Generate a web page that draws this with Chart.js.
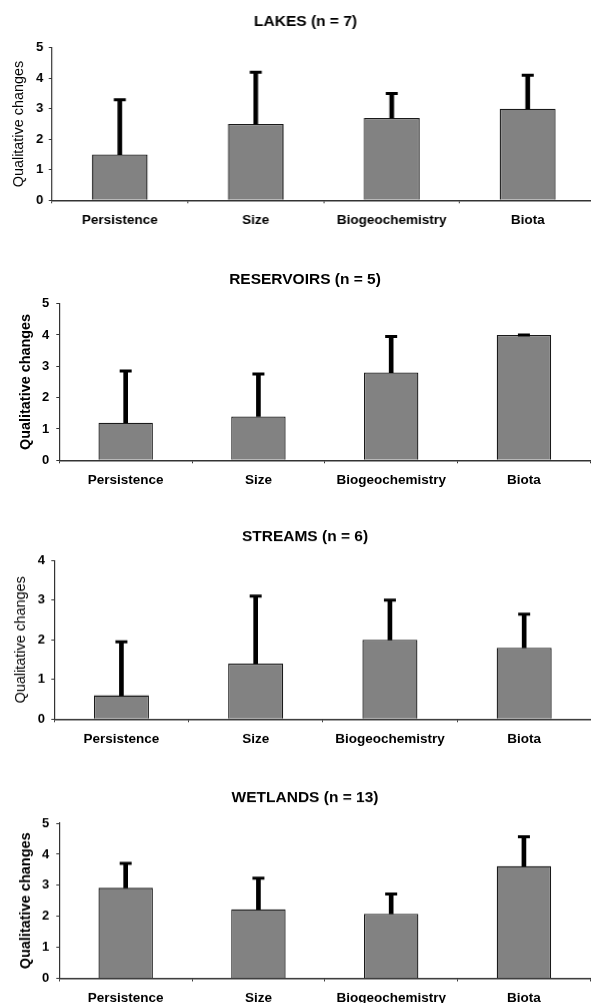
<!DOCTYPE html>
<html>
<head>
<meta charset="utf-8">
<script src="https://cdn.jsdelivr.net/npm/chart.js@4/dist/chart.umd.min.js"></script>
<style>
  html, body { margin: 0; padding: 0; background: #fff; width: 591px; height: 1003px; overflow: hidden; }
  .panel { position: absolute; left: 0; }
  .panel canvas { display: block; }
</style>
</head>
<body>
<div class="panel" id="panel0"><canvas></canvas></div>
<div class="panel" id="panel1"><canvas></canvas></div>
<div class="panel" id="panel2"><canvas></canvas></div>
<div class="panel" id="panel3"><canvas></canvas></div>
<script>
// Categories shared by every panel
const categories = ['Persistence', 'Size', 'Biogeochemistry', 'Biota'];

// Panel titles
const panelTitles = ['LAKES (n = 7)', 'RESERVOIRS (n = 5)', 'STREAMS (n = 6)', 'WETLANDS (n = 13)'];
const axisTitle = 'Qualitative changes';

// Mean qualitative change and upper error per category
const lakesMeans = [1.5, 2.5, 2.7, 3.0];
const lakesErrors = [1.8, 1.7, 0.8, 1.1];

const reservoirsMeans = [1.2, 1.4, 2.8, 4.0];
const reservoirsErrors = [1.65, 1.35, 1.15, 0];

const streamsMeans = [0.6, 1.4, 2.0, 1.8];
const streamsErrors = [1.35, 1.7, 1.0, 0.85];

const wetlandsMeans = [2.92, 2.23, 2.08, 3.62];
const wetlandsErrors = [0.79, 1.0, 0.64, 0.95];

// Value-axis maxima per panel
const yMaxima = [5, 5, 4, 5];

const FONT = "'Liberation Sans', Arial, Helvetica, sans-serif";
Chart.defaults.font.family = FONT;
Chart.defaults.color = '#000';

// Page geometry of each panel (title centre, plot box, category width)
const geometry = [
  { titleY: 21,    top: 47.5,  bottom: 200,   left: 51.7, catW: 138,   yTitleX: 19.2, tickPad: 5.4, boldAxis: false },
  { titleY: 279,   top: 303.3, bottom: 460,   left: 59.3, catW: 135,   yTitleX: 26.5, tickPad: 7,   boldAxis: true  },
  { titleY: 536.7, top: 560.7, bottom: 718.7, left: 54.3, catW: 136.5, yTitleX: 20.8, tickPad: 6.3, boldAxis: false },
  { titleY: 797.5, top: 823.3, bottom: 977.7, left: 59.3, catW: 135,   yTitleX: 26.5, tickPad: 7,   boldAxis: true  }
];

const series = [
  [lakesMeans, lakesErrors],
  [reservoirsMeans, reservoirsErrors],
  [streamsMeans, streamsErrors],
  [wetlandsMeans, wetlandsErrors]
];

const TITLE_SIZE = 15.5;
const TITLE_LH = TITLE_SIZE * 1.2;
const TITLE_PAD_TOP = 4;
const AXIS_TITLE_SIZE = 14.4;
const AXIS_TITLE_LH = AXIS_TITLE_SIZE * 1.2;
const X_SCALE_H = 34;
const TITLE_CENTER_X = 305;
const AXIS_COLOR = '#333';

series.forEach(([means, errors], i) => {
  const g = geometry[i];
  const width = g.left + categories.length * g.catW;
  const padLeft = 2 * TITLE_CENTER_X - width;
  const boxTop = g.titleY - TITLE_PAD_TOP - TITLE_LH / 2;
  const titlePadBottom = g.top - (g.titleY + TITLE_LH / 2);
  const height = (g.bottom - boxTop) + X_SCALE_H;
  const yScaleWidth = g.left - padLeft;
  const yTitlePad = g.yTitleX - padLeft - AXIS_TITLE_LH / 2;

  const box = document.getElementById('panel' + i);
  box.style.top = boxTop + 'px';
  box.style.width = width + 'px';
  box.style.height = height + 'px';

  const stems = means.map((m, k) => [m, m + errors[k]]);
  const caps = means.map((m, k) => m + errors[k]);

  new Chart(box.querySelector('canvas'), {
    type: 'bar',
    data: {
      labels: categories,
      datasets: [
        {
          type: 'line',
          data: caps,
          showLine: false,
          pointStyle: 'line',
          pointRadius: 6,
          pointHoverRadius: 6,
          pointBorderWidth: 3,
          pointBorderColor: '#000',
          pointBackgroundColor: '#000',
          order: 0
        },
        {
          data: stems,
          backgroundColor: '#000',
          borderWidth: 0,
          grouped: false,
          barPercentage: 1,
          categoryPercentage: 1,
          maxBarThickness: 4,
          order: 1
        },
        {
          data: means,
          backgroundColor: '#828282',
          borderColor: '#1a1a1a',
          borderWidth: 1.3,
          grouped: false,
          barPercentage: 0.41,
          categoryPercentage: 1,
          order: 2
        }
      ]
    },
    options: {
      responsive: true,
      maintainAspectRatio: false,
      animation: false,
      devicePixelRatio: 1,
      layout: { padding: { left: padLeft, right: 0, top: 0, bottom: 0 } },
      plugins: {
        legend: { display: false },
        tooltip: { enabled: false },
        title: {
          display: true,
          text: panelTitles[i],
          color: '#000',
          font: { size: TITLE_SIZE, weight: 'bold', family: FONT },
          padding: { top: TITLE_PAD_TOP, bottom: titlePadBottom }
        }
      },
      scales: {
        x: {
          offset: true,
          grid: {
            display: true,
            offset: true,
            drawOnChartArea: false,
            drawTicks: true,
            tickLength: 3,
            tickColor: AXIS_COLOR,
            tickWidth: 1
          },
          border: { display: true, color: AXIS_COLOR, width: 1.4 },
          ticks: {
            color: '#000',
            autoSkip: false,
            maxRotation: 0,
            minRotation: 0,
            padding: 9,
            font: { size: 13.5, weight: 'bold', family: FONT }
          },
          afterFit: s => { s.height = X_SCALE_H; }
        },
        y: {
          min: 0,
          max: yMaxima[i],
          stacked: false,
          grid: {
            display: true,
            drawOnChartArea: false,
            drawTicks: true,
            tickLength: 3,
            tickColor: AXIS_COLOR,
            tickWidth: 1
          },
          border: { display: true, color: AXIS_COLOR, width: 1.2 },
          ticks: {
            stepSize: 1,
            color: '#000',
            padding: g.tickPad,
            font: { size: 13, weight: 'bold', family: FONT }
          },
          title: {
            display: true,
            text: axisTitle,
            color: '#000',
            padding: { top: yTitlePad, bottom: 0 },
            font: { size: AXIS_TITLE_SIZE, weight: g.boldAxis ? 'bold' : 'normal', family: FONT }
          },
          afterFit: s => { s.width = yScaleWidth; }
        }
      }
    }
  });
});
</script>
</body>
</html>
